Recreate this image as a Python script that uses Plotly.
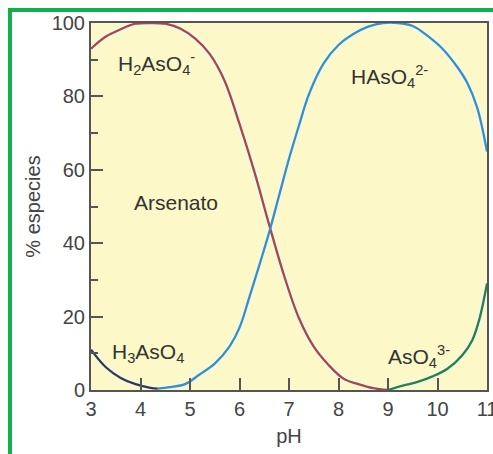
import plotly.graph_objects as go

# pH grid and species fractions (% of total arsenate)
ph_h2aso4 = [3.0, 3.3, 3.6, 3.9, 4.2, 4.5, 4.8, 5.1, 5.4, 5.7, 6.0, 6.3, 6.6, 6.9, 7.2, 7.5, 7.8, 8.1, 8.4, 8.7, 9.0]
h2aso4 = [93, 96.3, 98.3, 99.8, 100, 99.8, 98.5, 95.8, 91.5, 84.2, 72.5, 59.5, 45, 31.2, 19.6, 11.8, 6.8, 3.1, 1.6, 0.5, 0]

ph_aso4 = [9.0, 9.3, 9.6, 9.9, 10.2, 10.5, 10.7, 10.85, 11.0]
aso4 = [0, 1.2, 2.2, 3.7, 5.8, 9.5, 13.5, 19.5, 29]

ph_h3aso4 = [3.0, 3.3, 3.6, 3.9, 4.2, 4.35]
h3aso4 = [11, 6.2, 3.3, 1.6, 0.6, 0.4]

ph_haso4 = [4.35, 4.6, 4.9, 5.2, 5.5, 5.8, 6.0, 6.2, 6.4, 6.6, 6.8, 7.0, 7.2, 7.4, 7.7, 8.0, 8.3, 8.6, 8.9, 9.2, 9.5, 9.8, 10.1, 10.4, 10.6, 10.8, 11.0]
haso4 = [0.4, 0.8, 1.6, 4.3, 7.2, 11.9, 17, 25.3, 34, 43, 53, 63, 72, 80.5, 89, 94, 97, 99, 100, 100, 99.2, 96.5, 93, 88, 83.7, 77, 65]

x_ticks = [3, 4, 5, 6, 7, 8, 9, 10, 11]
y_ticks = [0, 20, 40, 60, 80, 100]

# species labels: text, pH, %
label_text = ["H<sub>2</sub>AsO<sub>4</sub><sup>-</sup>", "HAsO<sub>4</sub><sup>2-</sup>", "Arsenato",
              "H<sub>3</sub>AsO<sub>4</sub>", "AsO<sub>4</sub><sup>3-</sup>"]
label_ph = [4.33, 9.03, 4.71, 4.15, 9.63]
label_pct = [89, 85.5, 51.2, 10, 9]

FONT = "Liberation Sans, Arial, sans-serif"

fig = go.Figure()

series = [
    (ph_h2aso4, h2aso4, "#ab4839"),
    (ph_aso4, aso4, "#2f7f3a"),
    (ph_h3aso4, h3aso4, "#3a3a3a"),
    (ph_haso4, haso4, "#3f8fb0"),
]
# soft pale halo under each curve
for xs, ys, col in series:
    fig.add_trace(go.Scatter(x=xs, y=ys, mode="lines", line=dict(color="rgba(235,250,255,0.7)", width=6, shape="spline"),
                             hoverinfo="skip", showlegend=False, cliponaxis=False))
for xs, ys, col in series:
    fig.add_trace(go.Scatter(x=xs, y=ys, mode="lines", line=dict(color=col, width=2.3, shape="spline"),
                             showlegend=False, cliponaxis=False))

for t, px, py in zip(label_text, label_ph, label_pct):
    fig.add_annotation(x=px, y=py, text=t, showarrow=False,
                       font=dict(family=FONT, size=21, color="#333333"))

axis_common = dict(showline=True, linecolor="#555555", linewidth=2, mirror=True,
                   ticks="inside", tickcolor="#555555", tickwidth=1.5, ticklen=12,
                   showgrid=False, zeroline=False, automargin=False,
                   tickfont=dict(family=FONT, size=20, color="#444444"))

fig.update_xaxes(range=[3, 11], tickvals=x_ticks, ticktext=[str(v) for v in x_ticks],
                 ticklabeloverflow="allow",
                 title=dict(text="pH", font=dict(family=FONT, size=20, color="#444444"), standoff=10),
                 **axis_common)
fig.update_yaxes(range=[0, 100], tickvals=y_ticks, ticktext=[str(v) for v in y_ticks],
                 minor=dict(tickvals=[10, 30, 50, 70, 90], ticks="inside", ticklen=7,
                            tickcolor="#555555", tickwidth=1.5),
                 title=dict(text="% especies", font=dict(family=FONT, size=20, color="#444444"), standoff=6),
                 **axis_common)

# green frame around the figure (runs off the right and bottom edges)
L, T, W, H = 91, 23, 396, 367
def px_to_paper_x(p):
    return (p - L) / W
def px_to_paper_y(p):
    return 1 - (p - T) / H

fig.add_shape(type="rect", xref="paper", yref="paper",
              x0=px_to_paper_x(10), x1=px_to_paper_x(505),
              y0=px_to_paper_y(470), y1=px_to_paper_y(10),
              line=dict(color="#12b04a", width=4), fillcolor="rgba(0,0,0,0)", layer="above")

fig.update_layout(width=493, height=454,
                  margin=dict(l=L, r=493 - L - W, t=T, b=454 - T - H, autoexpand=False),
                  paper_bgcolor="white", plot_bgcolor="#fcf8c8",
                  font=dict(family=FONT))

fig.write_html("out.html")
